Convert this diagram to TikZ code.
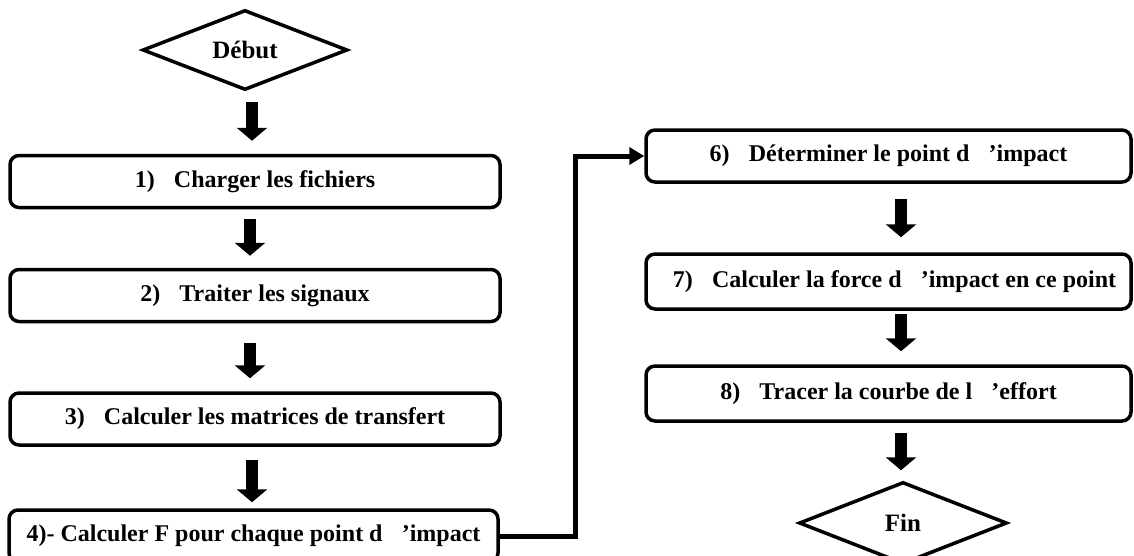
\documentclass[tikz,border=0pt]{standalone}
\usepackage{fontspec}
\setmainfont{Liberation Serif}
\usetikzlibrary{shapes.geometric,arrows.meta,calc}
\newcommand{\gp}{\hspace{0.8em}}
\tikzset{
  stepbox/.style={draw, line width=3.5pt, rounded corners=9pt, minimum height=52pt, inner sep=0pt, font=\fontsize{24}{28}\selectfont\bfseries},
  leftbox/.style={stepbox, minimum width=490pt},
  rightbox/.style={stepbox, minimum width=485pt},
  term/.style={draw, diamond, line width=3.5pt, inner sep=0pt, aspect=2.5, minimum width=205pt, minimum height=80pt, font=\fontsize{25}{28}\selectfont\bfseries},
  bigarrow/.style={line width=12pt, -{Triangle[width=30pt,length=13pt]}},
  elbow/.style={line width=5pt, -{Triangle[width=17pt,length=15pt]}}
}
\begin{document}
\begin{tikzpicture}[x=1pt,y=1pt]
\useasboundingbox (0,0) rectangle (1134,-555);
\begin{scope}
\clip (0,0) rectangle (1134,-555);
\node[term] (debut) at (245,-50) {Début};
\node[leftbox] (b1) at (255,-181.5) {1)\gp Charger les fichiers\hspace{14pt}};
\node[leftbox] (b2) at (255,-295.5) {2)\gp Traiter les signaux};
\node[leftbox] (b3) at (255,-419) {3)\gp Calculer les matrices de transfert};
\node[stepbox, minimum width=489pt] (b4) at (253.5,-536) {4)- Calculer F pour chaque point d\gp’impact\hspace{17pt}};
\node[rightbox] (b6) at (888.5,-156) {6)\gp Déterminer le point d\gp’impact};
\node[rightbox, minimum height=55pt] (b7) at (888.5,-281.5) {\hspace{12pt}7)\gp Calculer la force d\gp’impact en ce point};
\node[rightbox, minimum height=55pt] (b8) at (888.5,-393.5) {8)\gp Tracer la courbe de l\gp’effort};
\node[term, minimum width=208pt, minimum height=82pt] (fin) at (903,-523) {Fin\hspace{7pt}};

\draw[bigarrow] ($(debut.south)+(7,-10)$) -- ($(b1.north)+(-3,13)$);
\draw[bigarrow] ($(b1.south)+(-5,-10)$) -- ($(b2.north)+(-5,12)$);
\draw[bigarrow] ($(b2.south)+(-5,-20)$) -- ($(b3.north)+(-5,13)$);
\draw[bigarrow] ($(b3.south)+(-3,-13)$) -- ($(b4.north)+(-1.5,6)$);
\draw[bigarrow] ($(b6.south)+(12.5,-15)$) -- ($(b7.north)+(12.5,15)$);
\draw[bigarrow] ($(b7.south)+(12.5,-3)$) -- ($(b8.north)+(12.5,13)$);
\draw[bigarrow] ($(b8.south)+(12.5,-10)$) -- ($(fin.north)+(-2,10)$);
\draw[elbow] (b4.east) -- ++(76,0) |- (b6.west);
\end{scope}
\end{tikzpicture}
\end{document}
